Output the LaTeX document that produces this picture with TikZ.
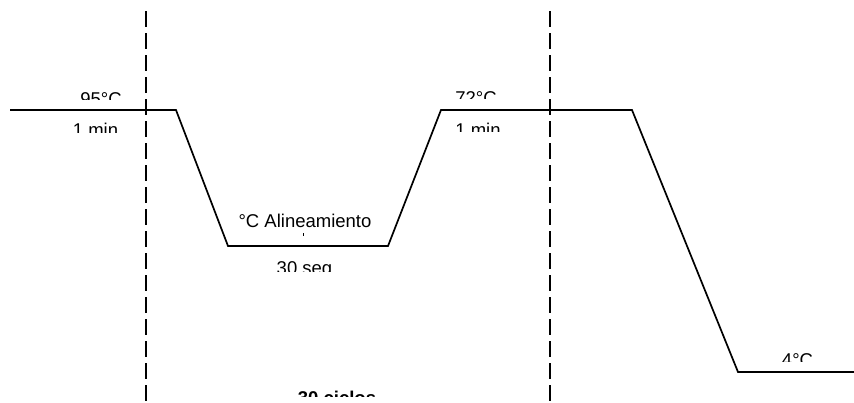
\documentclass[tikz,border=0pt]{standalone}
\usepackage{fontspec}
\setmainfont{Liberation Sans}
\begin{document}
\begin{tikzpicture}[x=1pt,y=-1pt,
  profile/.style={line width=1.7pt, line join=miter},
  phase/.style={line width=1.7pt, dash pattern=on 16pt off 6pt},
  lbl/.style={inner sep=0pt, font=\fontsize{18.5}{20}\selectfont, anchor=base},
  boldlbl/.style={lbl, font=\fontsize{18.5}{20}\selectfont\bfseries}]
\useasboundingbox (0,0) rectangle (854,402);

% temperature profile corners
\coordinate (s0) at (10,110);
\coordinate (s1) at (176,110);
\coordinate (s2) at (228,246);
\coordinate (s3) at (388,246);
\coordinate (s4) at (441,110);
\coordinate (s5) at (632,110);
\coordinate (s6) at (738,372);
\coordinate (s7) at (854,372);
\draw[profile] (s0) -- (s1) -- (s2) -- (s3) -- (s4) -- (s5) -- (s6) -- (s7);

% cycle boundaries
\coordinate (c1top) at (146,11);
\coordinate (c1bot) at (146,402);
\coordinate (c2top) at (550,11);
\coordinate (c2bot) at (550,402);
\draw[phase] (c1top) -- (c1bot);
\draw[phase] (c2top) -- (c2bot);

% step labels in their boxes
\begin{scope}
  \clip (40,80) rectangle (160,99.5);
  \node[lbl] (t1) at (101,105.5) {95°C};
\end{scope}
\begin{scope}
  \clip (40,115) rectangle (160,132);
  \node[lbl] (d1) at (95.5,136.5) {1 min};
\end{scope}
\begin{scope}
  \clip (420,80) rectangle (540,98);
  \node[lbl] (t2) at (476,104.5) {72°C};
\end{scope}
\begin{scope}
  \clip (420,115) rectangle (540,131);
  \node[lbl] (d2) at (478,136.5) {1 min};
\end{scope}
\node[lbl] (t3) at (305,227) {°C Alineamiento};
\coordinate (m1) at (303,233);
\coordinate (m2) at (303,236);
\draw[line width=1pt] (m1) -- (m2);
\begin{scope}
  \clip (240,250) rectangle (370,271);
  \node[lbl] (d3) at (304.5,274) {30 seg};
\end{scope}
\begin{scope}
  \clip (750,340) rectangle (850,361);
  \node[lbl] (t4) at (797.5,366) {4°C};
\end{scope}
\begin{scope}
  \clip (250,380) rectangle (430,396);
  \node[boldlbl] (cyc) at (337,404) {30 ciclos};
\end{scope}
\end{tikzpicture}
\end{document}
